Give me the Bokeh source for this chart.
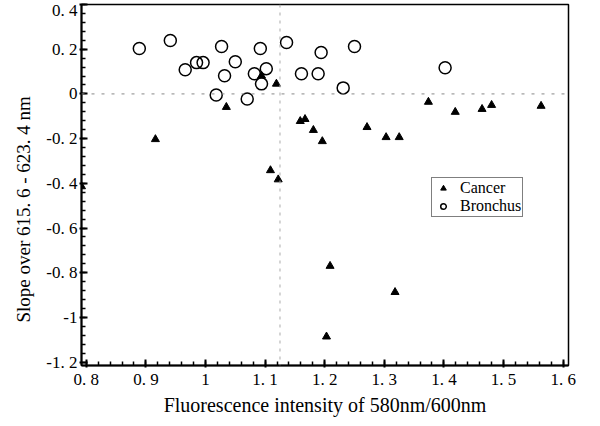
from bokeh.plotting import figure
from bokeh.models import FixedTicker, Span, Title, Range1d, Legend, LegendItem
from bokeh.embed import file_html
from bokeh.resources import INLINE

# ---- data ----
cancer_x = [0.792, 0.916, 1.035, 1.094, 1.119, 1.109, 1.122, 1.159, 1.167, 1.181, 1.196,
            1.271, 1.303, 1.325, 1.374, 1.419, 1.464, 1.480, 1.563, 1.209, 1.318, 1.203]
cancer_y = [-0.414, -0.203, -0.059, 0.081, 0.045, -0.342, -0.383, -0.122, -0.113, -0.162, -0.212,
            -0.149, -0.194, -0.194, -0.036, -0.081, -0.068, -0.050, -0.054, -0.770, -0.887, -1.086]

bronchus_x = [0.889, 0.941, 0.966, 0.985, 0.996, 1.027, 1.050, 1.032, 1.018, 1.070, 1.082,
              1.092, 1.102, 1.094, 1.136, 1.161, 1.189, 1.194, 1.231, 1.250, 1.402]
bronchus_y = [0.203, 0.239, 0.108, 0.140, 0.140, 0.212, 0.144, 0.081, -0.005, -0.023, 0.090,
              0.203, 0.113, 0.045, 0.230, 0.090, 0.090, 0.185, 0.027, 0.212, 0.117]

x_ticks = [0.8, 0.9, 1.0, 1.1, 1.2, 1.3, 1.4, 1.5, 1.6]
x_tick_labels = ["0. 8", "0. 9", "1", "1. 1", "1. 2", "1. 3", "1. 4", "1. 5", "1. 6"]
y_ticks = [-1.2, -1.0, -0.8, -0.6, -0.4, -0.2, 0.0, 0.2, 0.4]
y_tick_labels = ["-1. 2", "-1", "-0. 8", "-0. 6", "-0. 4", "-0. 2", "0", "0. 2", "0. 4"]

zero_line_y = 0.0
threshold_x = 1.125

FONT = "Liberation Serif"

p = figure(width=590, height=418, output_backend="svg", toolbar_location=None,
           x_range=Range1d(0.792, 1.609), y_range=Range1d(-1.215, 0.4),
           min_border_left=80, min_border_right=22, min_border_top=4, min_border_bottom=52)

p.xgrid.visible = False
p.ygrid.visible = False
p.background_fill_color = "white"
p.border_fill_color = "white"
p.outline_line_color = "black"
p.outline_line_width = 1.5

# axes
x_minor = [round(0.8 + 0.02 * i, 2) for i in range(41)]
y_minor = [round(-1.2 + 0.04 * i, 2) for i in range(41)]
p.xaxis.ticker = FixedTicker(ticks=x_ticks, minor_ticks=x_minor)
p.yaxis.ticker = FixedTicker(ticks=y_ticks, minor_ticks=y_minor)
p.xaxis.major_label_overrides = dict(zip(x_ticks, x_tick_labels))
p.yaxis.major_label_overrides = dict(zip(y_ticks, y_tick_labels))

for ax in (p.xaxis, p.yaxis):
    ax.axis_line_color = "black"
    ax.axis_line_width = 2
    ax.major_tick_line_color = "black"
    ax.major_tick_line_width = 2
    ax.minor_tick_line_color = "black"
    ax.minor_tick_line_width = 1.5
    ax.major_tick_in = 6
    ax.major_tick_out = 2
    ax.minor_tick_in = 4
    ax.minor_tick_out = 0
    ax.major_label_text_font = FONT
    ax.major_label_text_font_size = "17px"
    ax.major_label_text_color = "black"
    ax.axis_label_text_font = FONT
    ax.axis_label_text_font_style = "normal"
    ax.axis_label_text_color = "black"

p.yaxis.major_label_standoff = 2
p.xaxis.major_label_standoff = 2
p.xaxis.axis_label = "Fluorescence intensity of 580nm/600nm"
p.xaxis.axis_label_text_font_size = "20px"
p.xaxis.axis_label_standoff = 2

ytitle = Title(text="Slope over 615. 6 - 623. 4 nm", align="left", offset=43,
               text_font=FONT, text_font_size="19px", text_font_style="normal",
               text_color="black", standoff=20)
p.add_layout(ytitle, "left")

# reference lines
p.add_layout(Span(location=zero_line_y, dimension="width", line_color="#888888",
                  line_width=1, line_dash="3 7"))
p.add_layout(Span(location=threshold_x, dimension="height", line_color="#aaaaaa",
                  line_width=1, line_dash="3 5"))

# data
rb = p.scatter(bronchus_x, bronchus_y, marker="circle", size=12, fill_color=None,
               line_color="black", line_width=1.5)
rc = p.scatter(cancer_x, cancer_y, marker="triangle", size=8, fill_color="black",
               line_color="black", line_width=1)

legend = Legend(items=[LegendItem(label="Cancer", renderers=[rc]),
                       LegendItem(label="Bronchus", renderers=[rb])],
                location=(350, 148), label_text_font=FONT, label_text_font_size="16px",
                label_text_color="black", border_line_color="black", border_line_width=1.5,
                padding=1, spacing=0, margin=0, label_height=14, glyph_height=14,
                glyph_width=20, label_standoff=7, background_fill_alpha=1)
p.add_layout(legend, "center")

open("out.html", "w").write(file_html(p, INLINE))
